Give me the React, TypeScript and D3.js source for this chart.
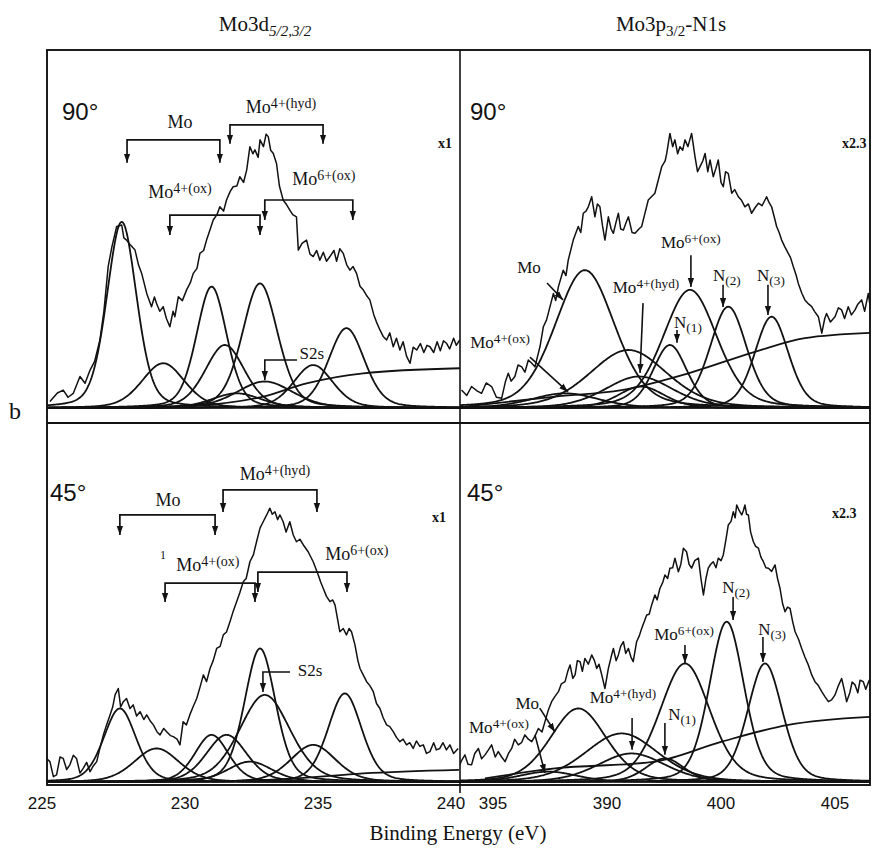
import * as d3 from "d3";
import React from "react";

type Pt = [number, number]; // [binding energy eV, intensity]
type Peak = [number, number, number]; // [centre eV, height, FWHM eV]
type Part = { t: string; s?: "sup" | "sub" };

// ---------- Mo3d, 90°
const mo3d90Envelope: Pt[] = [
  [224.92, 1.8], [225.2, 4.2], [225.42, 5.0], [225.6, 3.0], [225.8, 4.1], [226.05, 8.8], [226.24, 6.9],
  [226.43, 10.6], [226.6, 13.0], [226.8, 19.0], [226.95, 27], [227.11, 39.5], [227.25, 45], [227.43, 50.7],
  [227.62, 51.1], [227.7, 47.5], [227.8, 46.9], [227.95, 45.5], [228.12, 44.1], [228.25, 40], [228.37, 37.6],
  [228.56, 32.0], [228.74, 28.3], [228.85, 31], [228.93, 29.2], [229.05, 27], [229.18, 28.3], [229.3, 25],
  [229.43, 22.7], [229.55, 27], [229.62, 25.5], [229.75, 31.1], [229.9, 30], [230.06, 33.0], [230.2, 35],
  [230.31, 37.6], [230.45, 39], [230.56, 43.2], [230.7, 44], [230.81, 46.9], [230.95, 50], [231.06, 52.5],
  [231.2, 54], [231.31, 56.2], [231.45, 55], [231.56, 58.1], [231.7, 60.5], [231.81, 61.8], [231.95, 62],
  [232.06, 64.6], [232.2, 63], [232.32, 66.5], [232.44, 73.0], [232.55, 71], [232.63, 72.1], [232.75, 70],
  [232.82, 74.9], [232.95, 73], [233.05, 76.5], [233.13, 75.8], [233.22, 72], [233.32, 71.1], [233.44, 68.3],
  [233.55, 62], [233.69, 58.1], [233.8, 57], [233.94, 55.3], [234.05, 54], [234.19, 53.4], [234.26, 44.1],
  [234.4, 46], [234.57, 46.9], [234.7, 43], [234.82, 42.3], [234.95, 44], [235.07, 41.3], [235.2, 43.5],
  [235.32, 41], [235.45, 42.3], [235.6, 44], [235.7, 41], [235.82, 44.5], [235.95, 43.2], [236.08, 40],
  [236.2, 38.5], [236.32, 39.5], [236.45, 37.6], [236.58, 34], [236.7, 33.0], [236.82, 31.5], [236.95, 30.2],
  [237.1, 26], [237.2, 24], [237.33, 21.8], [237.45, 20], [237.58, 19.0], [237.7, 21], [237.83, 17.1],
  [237.95, 19.5], [238.08, 16.2], [238.2, 18.5], [238.33, 14.5], [238.46, 12.5], [238.58, 17], [238.71, 16.2],
  [238.85, 18], [238.98, 15.5], [239.1, 17.5], [239.21, 17.1], [239.35, 15.5], [239.48, 18.5], [239.6, 16],
  [239.72, 18.8], [239.83, 18.1], [239.95, 16.5], [240.1, 19.5], [240.2, 17.5], [240.33, 19.0],
];
const mo3d90Peaks: Peak[] = [
  [227.62, 52.0, 1.32], [229.18, 12.5, 1.9], [231.0, 33.9, 1.35], [231.5, 17.6, 1.75],
  [231.94, 4.1, 2.2], [232.82, 34.8, 1.57], [233.0, 7.4, 2.5], [234.82, 12.0, 1.75], [236.07, 22.3, 1.6],
];
const mo3d90Background: Pt[] = [
  [229.0, 0.2], [230.44, 0.6], [232.94, 3.2], [234.57, 6.9], [236.7, 9.7], [240.33, 11.1],
];

// ---------- Mo3p3/2-N1s, 90°
const n1s90Envelope: Pt[] = [
  [388.62, 5.0], [388.85, 3.5], [389.06, 6.0], [389.3, 4.8], [389.5, 4.1], [389.7, 7.0], [389.94, 6.0],
  [390.15, 3.0], [390.38, 2.7], [390.55, 7.5], [390.67, 9.7], [390.8, 7.5], [390.96, 8.8], [391.1, 12],
  [391.26, 11.5], [391.4, 10], [391.55, 13.4], [391.7, 12.5], [391.84, 11.5], [392.06, 17.1], [392.21, 22.7],
  [392.35, 24.6], [392.5, 28.3], [392.65, 32.0], [392.75, 30], [392.87, 33.9], [393.08, 38.5], [393.2, 37],
  [393.3, 41.3], [393.52, 46.9], [393.74, 50.7], [393.85, 49], [393.96, 54.4], [394.08, 55], [394.18, 56.2],
  [394.33, 59.0], [394.47, 53.4], [394.58, 57], [394.69, 56.2], [394.8, 51], [394.91, 46.9], [395.06, 53.4],
  [395.18, 50], [395.28, 48.8], [395.4, 52], [395.5, 54.4], [395.6, 50], [395.72, 49.7], [395.85, 52],
  [395.94, 53.4], [396.1, 49], [396.23, 48.8], [396.4, 50], [396.52, 50.7], [396.65, 54], [396.81, 58.1],
  [396.95, 59], [397.1, 60.0], [397.25, 63.7], [397.4, 67.4], [397.55, 69], [397.62, 71.1], [397.76, 76.7],
  [397.88, 73], [397.98, 74.9], [398.1, 71], [398.2, 73.0], [398.32, 72], [398.42, 74.9], [398.55, 73],
  [398.71, 76.7], [398.86, 70.2], [398.97, 66], [399.08, 67.4], [399.2, 69], [399.3, 71.1], [399.42, 66],
  [399.52, 69.3], [399.66, 64.6], [399.78, 67], [399.88, 69.3], [400.0, 63], [400.1, 61.8], [400.2, 66],
  [400.32, 65.5], [400.47, 60.0], [400.6, 61], [400.76, 59.0], [400.9, 58], [401.05, 56.2], [401.2, 57],
  [401.34, 54.4], [401.5, 56], [401.64, 57.2], [401.8, 56.5], [402.0, 59.0], [402.1, 57.5], [402.22, 56.2],
  [402.35, 53], [402.44, 50.7], [402.55, 49], [402.66, 46.9], [402.8, 45], [402.95, 43.2], [403.05, 42],
  [403.17, 39.5], [403.3, 37], [403.39, 34.8], [403.55, 32], [403.68, 30.2], [403.85, 29], [403.98, 28.3],
  [404.1, 27], [404.27, 25.5], [404.42, 20.9], [404.55, 25], [404.63, 26.4], [404.8, 24], [405.0, 25.5],
  [405.15, 28], [405.29, 27.4], [405.42, 25], [405.58, 28.3], [405.72, 26], [405.88, 27.4], [406.0, 29],
  [406.17, 30.2], [406.3, 27], [406.46, 32.0], [406.55, 28], [406.68, 22.7],
];
const n1s90Peaks: Peak[] = [
  [393.16, 4.1, 3.5], [394.03, 38.5, 3.1], [395.94, 16.2, 4.0], [396.4, 8.8, 3.5], [396.5, 6.0, 2.4],
  [397.76, 17.6, 1.75], [398.64, 33.0, 2.8], [400.32, 28.3, 1.9], [402.22, 25.5, 1.75],
];
const n1s90Background: Pt[] = [
  [388.77, 0.4], [392.72, 3.2], [395.64, 5.0], [398.57, 9.7], [401.49, 15.7], [403.68, 19.5], [406.68, 21.0],
];

// ---------- Mo3d, 45°
const mo3d45Envelope: Pt[] = [
  [224.67, 3.8], [224.8, 6.5], [224.92, 5.7], [225.05, 1.5], [225.17, 2.0], [225.3, 7.0], [225.42, 6.6],
  [225.55, 3.5], [225.67, 4.8], [225.8, 7.5], [225.92, 6.6], [226.05, 2.5], [226.17, 3.8], [226.3, 5.5],
  [226.43, 2.9], [226.55, 4.5], [226.68, 5.7], [226.8, 9.5], [226.93, 13.2], [227.05, 16], [227.18, 18.8],
  [227.28, 21], [227.37, 24.4], [227.49, 26.2], [227.58, 21], [227.68, 22.5], [227.8, 23.4], [227.93, 20.6],
  [228.05, 21.6], [228.18, 18.5], [228.31, 19.7], [228.45, 17.5], [228.56, 18.8], [228.7, 17], [228.81, 16.0],
  [228.95, 14], [229.06, 13.2], [229.2, 15], [229.31, 14.1], [229.45, 13], [229.56, 12.7], [229.7, 12],
  [229.81, 10.4], [229.93, 16.9], [230.05, 16], [230.18, 18.8], [230.3, 21], [230.44, 23.4], [230.58, 27],
  [230.69, 30.0], [230.81, 28.1], [230.94, 31.8], [231.06, 34], [231.19, 37.4], [231.32, 38], [231.44, 41.2],
  [231.56, 42], [231.69, 44.9], [231.82, 48], [231.94, 50.5], [232.06, 53], [232.19, 56.1], [232.3, 57],
  [232.44, 61.7], [232.57, 63.6], [232.69, 67.3], [232.82, 71.1], [232.94, 72.9], [233.07, 74.8],
  [233.19, 76.7], [233.28, 75], [233.38, 75.7], [233.48, 73.5], [233.57, 74.8], [233.69, 72.9], [233.8, 70],
  [233.94, 72.9], [234.07, 69.2], [234.19, 67.3], [234.32, 68], [234.45, 66.4], [234.63, 64.5],
  [234.82, 61.7], [235.01, 58.0], [235.1, 56], [235.2, 54.2], [235.32, 52], [235.45, 50.5], [235.55, 51],
  [235.64, 49.6], [235.82, 42.1], [235.95, 43], [236.07, 41.2], [236.17, 43], [236.26, 42.1], [236.39, 38.4],
  [236.5, 34], [236.58, 31.8], [236.7, 30], [236.83, 28.1], [236.95, 27], [237.08, 25.3], [237.2, 22],
  [237.33, 20.6], [237.45, 18], [237.58, 16.0], [237.7, 15.5], [237.83, 14.1], [237.95, 12.5], [238.08, 11.3],
  [238.2, 12], [238.33, 10.4], [238.45, 11], [238.58, 9.4], [238.7, 11.5], [238.83, 10], [238.96, 10.4],
  [239.08, 8], [239.21, 8.5], [239.35, 11], [239.45, 9], [239.58, 9.4], [239.7, 11], [239.83, 9], [239.96, 10.4],
  [240.1, 8], [240.27, 9.4],
];
const mo3d45Peaks: Peak[] = [
  [227.55, 20.6, 1.44], [228.93, 9.4, 2.0], [231.0, 13.2, 1.5], [231.56, 13.2, 1.8], [232.44, 5.7, 2.0],
  [232.82, 37.4, 1.38], [233.0, 24.4, 2.25], [234.82, 10.4, 2.0], [236.01, 24.8, 1.5],
];
const mo3d45Background: Pt[] = [
  [231.0, 0.1], [234.2, 1.0], [236.7, 2.4], [240.3, 3.4],
];

// ---------- Mo3p3/2-N1s, 45°
const n1s45Envelope: Pt[] = [
  [388.48, 3.8], [388.62, 6], [388.77, 7.6], [388.9, 5], [389.06, 4.8], [389.2, 8], [389.36, 9.4],
  [389.5, 6.5], [389.65, 7.6], [389.8, 9], [389.94, 10.4], [390.1, 7], [390.23, 8.5], [390.38, 7], [390.53, 5.7],
  [390.68, 8], [390.82, 9.4], [390.95, 12], [391.11, 10.4], [391.25, 11], [391.4, 13.2], [391.55, 12],
  [391.7, 11.3], [391.85, 13], [391.99, 15.0], [392.15, 14], [392.28, 16.9], [392.42, 20], [392.57, 22.5],
  [392.72, 24], [392.87, 25.3], [393.0, 27.5], [393.16, 28.1], [393.28, 31], [393.38, 32.8], [393.5, 29],
  [393.6, 30.0], [393.7, 34], [393.82, 33.7], [393.92, 31], [394.03, 34.6], [394.18, 33], [394.33, 35.6],
  [394.45, 34], [394.55, 31.8], [394.65, 33], [394.77, 30.0], [394.91, 26.2], [395.06, 31.8], [395.18, 35],
  [395.28, 37.4], [395.4, 34], [395.5, 35.6], [395.6, 38], [395.72, 39.3], [395.82, 36], [395.94, 37.4],
  [396.05, 35], [396.15, 33.7], [396.3, 39.3], [396.42, 41], [396.52, 43.0], [396.64, 45], [396.74, 46.8],
  [396.85, 47], [396.96, 49.6], [397.1, 52.4], [397.2, 51], [397.32, 54.2], [397.45, 56], [397.54, 58.0],
  [397.66, 57], [397.76, 59.9], [397.88, 60], [397.98, 62.7], [398.13, 58.9], [398.24, 61], [398.35, 65.5],
  [398.49, 64.5], [398.6, 61], [398.71, 59.9], [398.85, 62], [399.01, 62.7], [399.12, 57], [399.23, 52.4],
  [399.34, 57], [399.44, 59.9], [399.55, 61], [399.66, 61.7], [399.78, 60], [399.88, 62.7], [400.0, 62],
  [400.1, 63.6], [400.22, 68], [400.32, 72.0], [400.44, 73], [400.54, 75.7], [400.62, 74], [400.69, 77.6],
  [400.8, 76], [400.91, 74.8], [400.98, 76], [401.05, 77.6], [401.12, 75], [401.2, 74.8], [401.3, 70],
  [401.42, 67.3], [401.52, 66], [401.64, 65.5], [401.75, 63], [401.86, 61.7], [401.97, 60], [402.08, 59.9],
  [402.22, 59], [402.37, 60.8], [402.48, 57], [402.59, 54.2], [402.7, 50], [402.81, 47.7], [402.92, 49],
  [403.03, 48.6], [403.14, 45], [403.25, 42.1], [403.4, 40], [403.54, 37.4], [403.68, 35], [403.83, 32.8],
  [403.98, 30], [404.12, 28.1], [404.27, 27], [404.42, 25.3], [404.55, 24], [404.71, 22.5], [404.85, 23],
  [405.0, 24.4], [405.15, 27], [405.29, 29.0], [405.4, 26], [405.51, 22.5], [405.65, 25], [405.75, 28],
  [405.88, 27.2], [406.0, 25], [406.1, 28.5], [406.24, 28.1], [406.35, 26], [406.5, 28.5], [406.68, 26.2],
];
const n1s45Peaks: Peak[] = [
  [392.43, 2.9, 3.0], [393.74, 20.6, 2.9], [395.64, 13.6, 3.8], [396.08, 8.0, 3.5], [397.54, 6.6, 2.0],
  [398.42, 33.2, 2.6], [400.25, 44.9, 1.8], [401.93, 33.2, 1.8],
];
const n1s45Background: Pt[] = [
  [389.65, 1.0], [392.72, 3.8], [397.1, 5.7], [400.03, 11.3], [402.95, 16.0], [406.68, 18.3],
];

// ---------- axes
const leftTicks = [225, 230, 235, 240];
const rightTicks = [390, 395, 400, 405];
const rightTickLabels = ["395", "390", "400", "405"]; // as printed

// ---------- annotations (data units)
const mo = (s: string): Part[] => [{ t: "Mo" }, { t: s, s: "sup" }];
const nn = (s: string): Part[] => [{ t: "N" }, { t: s, s: "sub" }];

type Bracket = { label: Part[]; x1: number; x2: number; bar: number; tip: number; tx: number; ty: number };
type Arrow = { label: Part[]; tx: number; ty: number; ax: number; ay: number; bx: number; by: number };

const mo3d90Brackets: Bracket[] = [
  { label: [{ t: "Mo" }], x1: 227.82, x2: 231.31, bar: 74.9, tip: 68.5, tx: 229.81, ty: 78.2 },
  { label: mo("4+(hyd)"), x1: 231.69, x2: 235.19, bar: 79.1, tip: 73.8, tx: 233.61, ty: 82.4 },
  { label: mo("4+(ox)"), x1: 229.43, x2: 232.82, bar: 53.9, tip: 48.3, tx: 229.81, ty: 58.6 },
  { label: mo("6+(ox)"), x1: 233.0, x2: 236.31, bar: 58.1, tip: 52.5, tx: 235.22, ty: 62.2 },
];
const mo3d45Brackets: Bracket[] = [
  { label: [{ t: "Mo" }], x1: 227.55, x2: 231.13, bar: 74.8, tip: 69.2, tx: 229.36, ty: 77.4 },
  { label: mo("4+(hyd)"), x1: 231.43, x2: 234.96, bar: 81.8, tip: 75.6, tx: 233.38, ty: 84.6 },
  { label: mo("4+(ox)"), x1: 229.25, x2: 232.63, bar: 55.7, tip: 50.4, tx: 230.86, ty: 59.1 },
  { label: mo("6+(ox)"), x1: 232.74, x2: 236.09, bar: 58.8, tip: 53.2, tx: 236.46, ty: 62.2 },
];
const mo3d90S2s = { x1: 233.0, x2: 234.21, bar: 13.4, tip: 7.8, tx: 234.77, ty: 13.6 };
const mo3d45S2s = { x1: 232.93, x2: 233.95, bar: 30.8, tip: 25.2, tx: 234.7, ty: 29.6 };

const n1s90Arrows: Arrow[] = [
  { label: [{ t: "Mo" }], tx: 391.58, ty: 37.6, ax: 392.37, ay: 34.9, bx: 393.07, by: 30.2 },
  { label: mo("4+(ox)"), tx: 390.31, ty: 16.8, ax: 391.62, ay: 14.2, bx: 393.29, by: 4.5 },
  { label: mo("4+(hyd)"), tx: 396.71, ty: 32.2, ax: 396.58, ay: 29.3, bx: 396.45, by: 9.8 },
  { label: mo("6+(ox)"), tx: 398.68, ty: 44.7, ax: 398.68, ay: 42.7, bx: 398.68, by: 33.8 },
  { label: nn("(1)"), tx: 398.55, ty: 22.4, ax: 398.07, ay: 21.8, bx: 398.07, by: 18.2 },
  { label: nn("(2)"), tx: 400.26, ty: 35.5, ax: 400.09, ay: 34.4, bx: 400.09, by: 28.2 },
  { label: nn("(3)"), tx: 402.19, ty: 35.5, ax: 402.06, ay: 34.4, bx: 402.06, by: 26.0 },
];
const n1s45Arrows: Arrow[] = [
  { label: mo("4+(ox)"), tx: 390.26, ty: 13.6, ax: 391.84, ay: 13.2, bx: 392.28, by: 2.5 },
  { label: [{ t: "Mo" }], tx: 391.5, ty: 20.4, ax: 392.05, ay: 20.7, bx: 392.72, by: 14.0 },
  { label: mo("4+(hyd)"), tx: 395.7, ty: 22.2, ax: 396.1, ay: 17.9, bx: 396.1, by: 9.0 },
  { label: nn("(1)"), tx: 398.29, ty: 17.4, ax: 397.54, ay: 16.5, bx: 397.54, by: 7.6 },
  { label: mo("6+(ox)"), tx: 398.38, ty: 39.8, ax: 398.42, ay: 38.4, bx: 398.42, by: 33.3 },
  { label: nn("(2)"), tx: 400.66, ty: 53.0, ax: 400.53, ay: 51.8, bx: 400.53, by: 45.4 },
  { label: nn("(3)"), tx: 402.24, ty: 41.2, ax: 401.84, ay: 40.6, bx: 401.84, by: 33.6 },
];

// ---------- layout
const W = 875;
const H = 851;
const fr = { left: 47, right: 870, top: 50, mid: 423, bottom: 785, split: 460 };
const ink = "#121212";
const serif = "'Liberation Serif', 'DejaVu Serif', serif";
const sans = "'Liberation Sans', 'DejaVu Sans', sans-serif";

const xL = d3.scaleLinear().domain([224.81, 240.34]).range([fr.left, fr.split]);
const xR = d3.scaleLinear().domain([388.553, 406.535]).range([fr.split, fr.right]);
const yT = d3.scaleLinear().domain([0, 100]).range([408, fr.top]);
const yB = d3.scaleLinear().domain([0, 100]).range([782, fr.mid + 2]);

// fitted component (pseudo-Voigt) evaluated from the read-off parameters
const fitShape = (e: number, [c, h, w]: Peak) => {
  const d = (e - c) / w;
  return h * (0.72 * Math.exp(-4 * Math.LN2 * d * d) + 0.28 / (1 + 4 * d * d));
};

type Scale = d3.ScaleLinear<number, number>;

const Label = ({ parts, x, y, size = 18 }: { parts: Part[]; x: number; y: number; size?: number }) => (
  <text x={x} y={y} textAnchor="middle" fontFamily={serif} fontSize={size} fill={ink}>
    {parts.map((p, i) => {
      if (!p.s) return <tspan key={i}>{p.t}</tspan>;
      const dy = p.s === "sup" ? -5 : 4;
      return (
        <tspan key={i} fontSize={size * 0.78} dy={dy}>
          {p.t}
        </tspan>
      );
    })}
  </text>
);

type PanelProps = {
  id: string;
  x: Scale;
  y: Scale;
  envelope: Pt[];
  peaks: Peak[];
  background: Pt[];
  x0: number;
  x1: number;
  y0: number;
  y1: number;
};

const Panel = ({ id, x, y, envelope, peaks, background, x0, x1, y0, y1 }: PanelProps) => {
  const line = d3.line<Pt>().x((d) => x(d[0])).y((d) => y(d[1]));
  const smooth = d3.line<Pt>().x((d) => x(d[0])).y((d) => y(d[1])).curve(d3.curveMonotoneX);
  const [d0, d1] = x.domain();
  const grid = d3.range(d0, d1, 0.04);
  return (
    <g>
      <clipPath id={id}>
        <rect x={x0} y={y0} width={x1 - x0} height={y1 - y0} />
      </clipPath>
      <g clipPath={`url(#${id})`} fill="none" stroke={ink} strokeLinejoin="round">
        {peaks.map((p, i) => (
          <path key={i} d={line(grid.map((e) => [e, fitShape(e, p)] as Pt)) || ""} strokeWidth={1.8} />
        ))}
        <path d={smooth(background) || ""} strokeWidth={1.8} />
        <path d={line(envelope) || ""} strokeWidth={1.5} />
        <line x1={x0} x2={x1} y1={y(0)} y2={y(0)} strokeWidth={1.4} />
      </g>
    </g>
  );
};

const BracketMark = ({ b, x, y }: { b: Bracket; x: Scale; y: Scale }) => (
  <g>
    <path
      d={`M${x(b.x1)},${y(b.tip)}V${y(b.bar)}H${x(b.x2)}V${y(b.tip)}`}
      fill="none"
      stroke={ink}
      strokeWidth={1.7}
      markerStart="url(#headUp)"
      markerEnd="url(#head)"
    />
    <Label parts={b.label} x={x(b.tx)} y={y(b.ty)} />
  </g>
);

const ArrowMark = ({ a, x, y }: { a: Arrow; x: Scale; y: Scale }) => (
  <g>
    <line x1={x(a.ax)} y1={y(a.ay)} x2={x(a.bx)} y2={y(a.by)} stroke={ink} strokeWidth={1.6} markerEnd="url(#head)" />
    <Label parts={a.label} x={x(a.tx)} y={y(a.ty)} size={17} />
  </g>
);

const S2s = ({ s, x, y }: { s: typeof mo3d90S2s; x: Scale; y: Scale }) => (
  <g>
    <path d={`M${x(s.x2)},${y(s.bar)}H${x(s.x1)}V${y(s.tip)}`} fill="none" stroke={ink} strokeWidth={1.6} markerEnd="url(#head)" />
    <text x={x(s.tx)} y={y(s.ty)} textAnchor="middle" fontFamily={serif} fontSize={17} fill={ink}>
      S2s
    </text>
  </g>
);

export default function App() {
  return (
    <svg
      width={W}
      height={H}
      viewBox={`0 0 ${W} ${H}`}
      style={{ display: "block", position: "absolute", left: 0, top: 0, background: "#fff" }}
    >
      <defs>
        <marker id="head" viewBox="0 0 10 10" refX="10" refY="5" markerWidth="9" markerHeight="9" markerUnits="userSpaceOnUse" orient="auto">
          <path d="M0,1.5 L10,5 L0,8.5 z" fill={ink} />
        </marker>
        <marker id="headUp" viewBox="0 0 10 10" refX="10" refY="5" markerWidth="9" markerHeight="9" markerUnits="userSpaceOnUse" orient="auto-start-reverse">
          <path d="M0,1.5 L10,5 L0,8.5 z" fill={ink} />
        </marker>
      </defs>

      {/* titles */}
      <text x={265} y={31} textAnchor="middle" fontFamily={serif} fontSize={21} fill={ink}>
        Mo3d<tspan fontSize={15} dy={5} fontStyle="italic">5/2,3/2</tspan>
      </text>
      <text x={671} y={31} textAnchor="middle" fontFamily={serif} fontSize={21} fill={ink}>
        Mo3p<tspan fontSize={15} dy={5}>3/2</tspan>
        <tspan dy={-5}>-N1s</tspan>
      </text>

      {/* panels */}
      <Panel id="c1" x={xL} y={yT} envelope={mo3d90Envelope} peaks={mo3d90Peaks} background={mo3d90Background} x0={fr.left} x1={fr.split} y0={fr.top} y1={fr.mid} />
      <Panel id="c2" x={xR} y={yT} envelope={n1s90Envelope} peaks={n1s90Peaks} background={n1s90Background} x0={fr.split} x1={fr.right} y0={fr.top} y1={fr.mid} />
      <Panel id="c3" x={xL} y={yB} envelope={mo3d45Envelope} peaks={mo3d45Peaks} background={mo3d45Background} x0={fr.left} x1={fr.split} y0={fr.mid} y1={fr.bottom} />
      <Panel id="c4" x={xR} y={yB} envelope={n1s45Envelope} peaks={n1s45Peaks} background={n1s45Background} x0={fr.split} x1={fr.right} y0={fr.mid} y1={fr.bottom} />

      {/* frame */}
      <g stroke={ink} strokeWidth={1.9} fill="none">
        <rect x={fr.left} y={fr.top} width={fr.right - fr.left} height={fr.bottom - fr.top} />
        <line x1={fr.left} x2={fr.right} y1={fr.mid} y2={fr.mid} />
        <line x1={fr.split} x2={fr.split} y1={fr.top} y2={fr.bottom + 8} strokeWidth={1.6} />
      </g>

      {/* annotations */}
      {mo3d90Brackets.map((b, i) => <BracketMark key={i} b={b} x={xL} y={yT} />)}
      {mo3d45Brackets.map((b, i) => <BracketMark key={i} b={b} x={xL} y={yB} />)}
      <S2s s={mo3d90S2s} x={xL} y={yT} />
      <S2s s={mo3d45S2s} x={xL} y={yB} />
      {n1s90Arrows.map((a, i) => <ArrowMark key={i} a={a} x={xR} y={yT} />)}
      {n1s45Arrows.map((a, i) => <ArrowMark key={i} a={a} x={xR} y={yB} />)}
      <text x={xL(229.17)} y={yB(62.5)} fontFamily={serif} fontSize={12} fill={ink} textAnchor="middle">1</text>

      {/* angle and scale labels */}
      <g fontFamily={sans} fontSize={24} fill={ink}>
        <text x={62} y={120}>90°</text>
        <text x={470} y={120}>90°</text>
        <text x={50} y={501}>45°</text>
        <text x={467} y={501}>45°</text>
      </g>
      <g fontFamily={serif} fontSize={14} fontWeight="bold" fill={ink}>
        <text x={438} y={148}>x1</text>
        <text x={842} y={148}>x2.3</text>
        <text x={432} y={522}>x1</text>
        <text x={832} y={518}>x2.3</text>
      </g>
      <text x={15} y={419} textAnchor="middle" fontFamily={serif} fontSize={24} fill={ink}>b</text>

      {/* axis labels */}
      <g fontFamily={sans} fontSize={17} fill={ink} textAnchor="middle">
        {leftTicks.map((t) => (
          <text key={t} x={xL(t) - (t === 225 ? 10 : 0)} y={809}>{t}</text>
        ))}
        {rightTicks.map((t, i) => (
          <text key={t} x={xR(t)} y={809}>{rightTickLabels[i]}</text>
        ))}
      </g>
      <text x={458} y={840} textAnchor="middle" fontFamily={serif} fontSize={21} fill={ink}>
        Binding Energy (eV)
      </text>
    </svg>
  );
}
